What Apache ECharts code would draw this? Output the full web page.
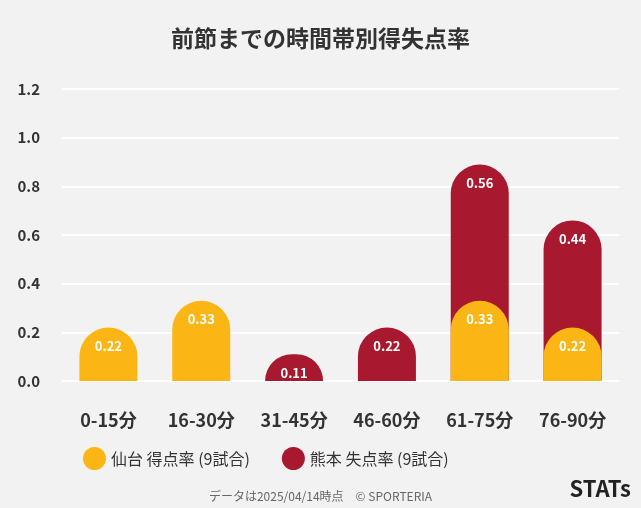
<!DOCTYPE html>
<html><head><meta charset="utf-8">
<script src="https://cdn.jsdelivr.net/npm/echarts@6/dist/echarts.min.js"></script>
<style>html,body{margin:0;background:#f2f2f2}#c{width:641px;height:508px}</style>
</head><body><div id="c"></div>
<script>
const categories=['0-15分','16-30分','31-45分','46-60分','61-75分','76-90分'];
const sendai=[0.22,0.33,0,0,0.33,0.22];
const kumamoto=[0,0,0.11,0.22,0.56,0.44];
const yTicks=[0,0.2,0.4,0.6,0.8,1.0,1.2];
const totals=kumamoto.map((v,i)=>v?+(v+sendai[i]).toFixed(2):0);
const chart=echarts.init(document.getElementById('c'));
const F='"Noto Sans CJK JP","Noto Sans",sans-serif';
chart.setOption({
 backgroundColor:'#f2f2f2',
 textStyle:{fontFamily:F},
 title:{text:'前節までの時間帯別得失点率',left:'center',top:22,textStyle:{fontSize:23,fontWeight:'bold',color:'#333',fontFamily:F}},
 grid:{left:62,right:22,top:89,bottom:127},
 xAxis:{type:'category',data:categories,axisLine:{show:false},axisTick:{show:false},
  axisLabel:{fontSize:18,fontWeight:'bold',color:'#333',margin:30}},
 yAxis:{type:'value',min:0,max:1.2,interval:0.2,
  axisLabel:{fontSize:15,fontWeight:'bold',color:'#333',margin:22,formatter:v=>v.toFixed(1)},
  splitLine:{lineStyle:{color:'#fff',width:2}}},
 legend:{bottom:33,left:78,itemGap:32,icon:'circle',itemWidth:23,itemHeight:23,
  textStyle:{fontSize:16,color:'#333'},data:['仙台 得点率 (9試合)','熊本 失点率 (9試合)']},
 graphic:[
  {type:'text',left:'center',bottom:6,style:{text:'データは2025/04/14時点　© SPORTERIA',fontSize:12,fill:'#666',fontFamily:F}},
  {type:'text',right:10,bottom:8,style:{text:'STATs',fontSize:22,fontWeight:'bold',fill:'#222',fontFamily:F}}
 ],
 series:[
  {name:'熊本 失点率 (9試合)',type:'bar',data:totals,barWidth:58,itemStyle:{color:'#a8182f',borderRadius:[29,29,0,0]},
   label:{show:true,position:'insideTop',distance:12,color:'#fff',fontWeight:'bold',fontSize:13,formatter:p=>kumamoto[p.dataIndex]?kumamoto[p.dataIndex].toFixed(2):''}},
  {name:'仙台 得点率 (9試合)',type:'bar',data:sendai,barWidth:58,barGap:'-100%',itemStyle:{color:'#fbb616',borderRadius:[29,29,0,0]},
   label:{show:true,position:'insideTop',distance:12,color:'#fff',fontWeight:'bold',fontSize:13,formatter:p=>p.value?p.value.toFixed(2):''}}
 ]
});
</script></body></html>
